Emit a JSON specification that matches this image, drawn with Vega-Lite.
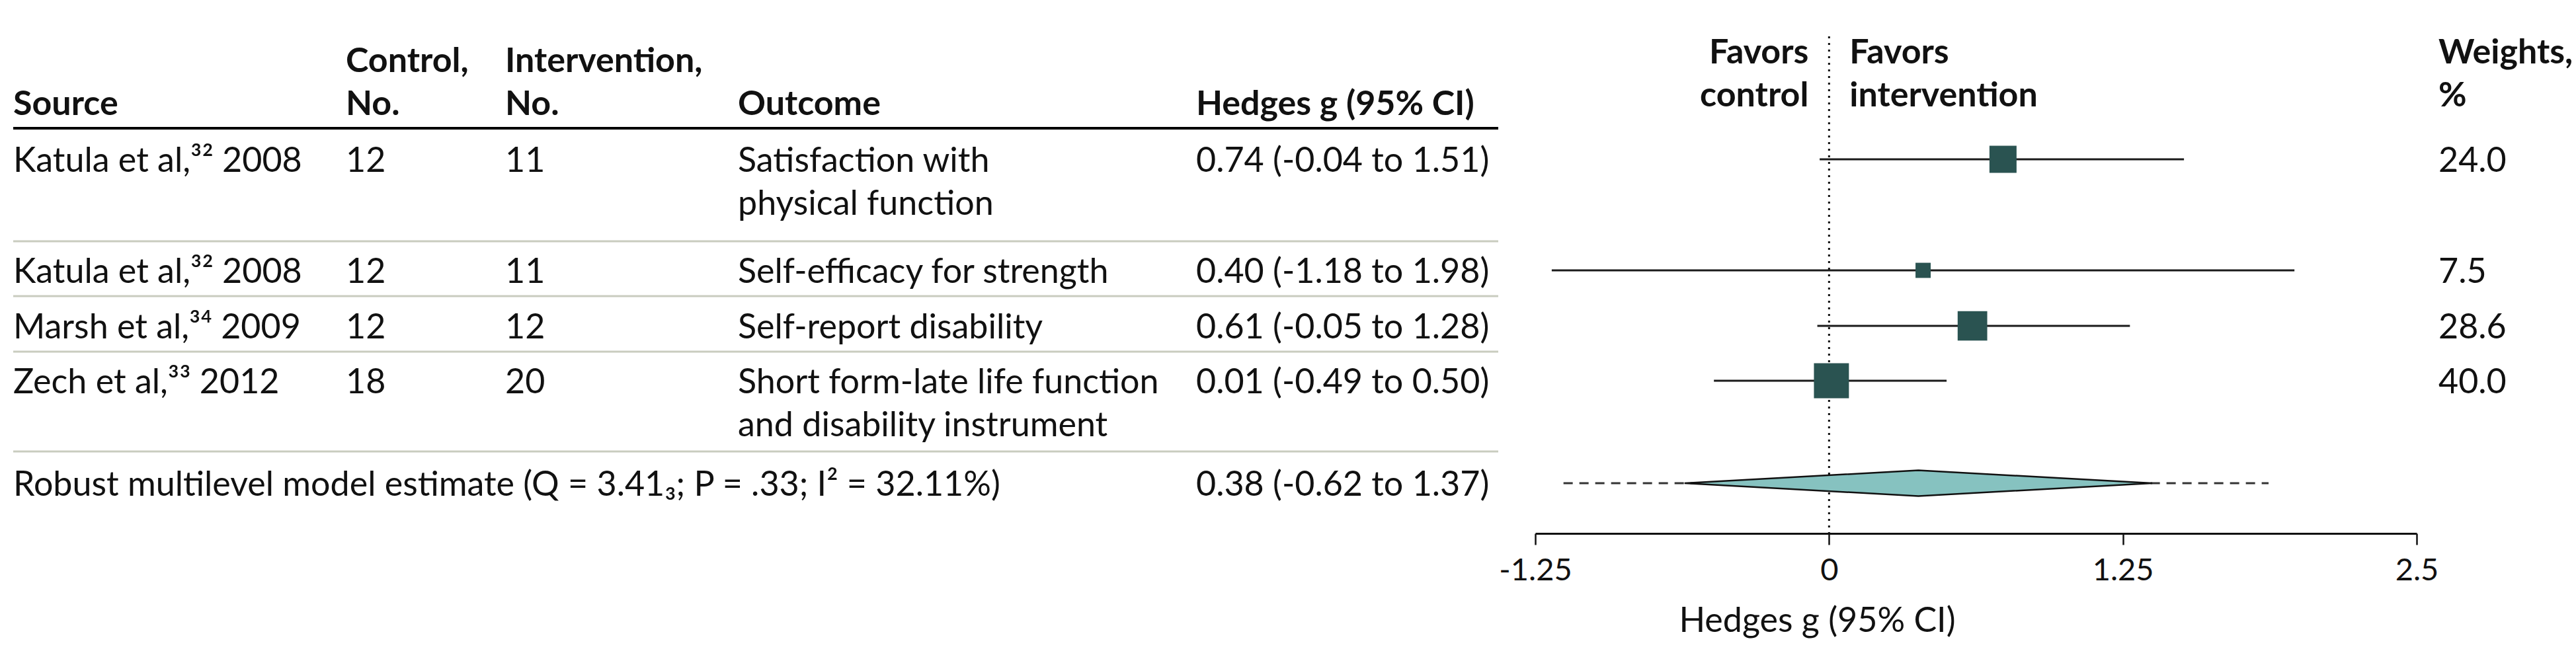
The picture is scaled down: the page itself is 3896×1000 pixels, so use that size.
{
  "$schema": "https://vega.github.io/schema/vega-lite/v6.json",
  "width": 3896,
  "height": 807,
  "autosize": {"type": "none"},
  "padding": {"left": 0, "top": 0, "right": 0, "bottom": 193},
  "background": "white",
  "config": {
    "view": {"stroke": null},
    "font": "Lato",
    "text": {"font": "Lato", "fontSize": 52, "color": "#111111", "lineHeight": 65}
  },
  "datasets": {
    "studies": [
      {"row": 1, "source": "Katula et al,³² 2008", "control": 12, "intervention": 11, "outcome": ["Satisfaction with", "physical function"], "estimate": "0.74 (-0.04 to 1.51)", "g": 0.74, "lo": -0.04, "hi": 1.51, "weight": 24.0},
      {"row": 2, "source": "Katula et al,³² 2008", "control": 12, "intervention": 11, "outcome": ["Self-efficacy for strength"], "estimate": "0.40 (-1.18 to 1.98)", "g": 0.40, "lo": -1.18, "hi": 1.98, "weight": 7.5},
      {"row": 3, "source": "Marsh et al,³⁴ 2009", "control": 12, "intervention": 12, "outcome": ["Self-report disability"], "estimate": "0.61 (-0.05 to 1.28)", "g": 0.61, "lo": -0.05, "hi": 1.28, "weight": 28.6},
      {"row": 4, "source": "Zech et al,³³ 2012", "control": 18, "intervention": 20, "outcome": ["Short form-late life function", "and disability instrument"], "estimate": "0.01 (-0.49 to 0.50)", "g": 0.01, "lo": -0.49, "hi": 0.50, "weight": 40.0}
    ],
    "summary": [
      {"row": 5, "label": "Robust multilevel model estimate (Q = 3.41₃; P = .33; I² = 32.11%)", "estimate": "0.38 (-0.62 to 1.37)", "g": 0.38, "lo": -0.62, "hi": 1.37, "pi_lo": -1.13, "pi_hi": 1.87}
    ],
    "headers": [
      {"col": 1, "lines": ["", "Source"]},
      {"col": 2, "lines": ["Control,", "No."]},
      {"col": 3, "lines": ["Intervention,", "No."]},
      {"col": 4, "lines": ["", "Outcome"]},
      {"col": 5, "lines": ["", "Hedges g (95% CI)"]},
      {"col": 7, "lines": ["Weights,", "%"]}
    ],
    "separators": [
      {"above": 1, "kind": "head"},
      {"above": 2, "kind": "row"},
      {"above": 3, "kind": "row"},
      {"above": 4, "kind": "row"},
      {"above": 5, "kind": "row"}
    ]
  },
  "layer": [
    {
      "layer": [
        {
          "layer": [
            {
              "data": {"name": "headers"},
              "transform": [{"filter": "datum.col < 6"}],
              "mark": {"type": "text", "baseline": "top", "align": "left", "fontWeight": "bold", "dy": 13},
              "encoding": {
                "x": {"field": "col", "type": "quantitative", "scale": {"domain": [1, 2, 3, 4, 5, 6, 7], "range": [20, 523, 764, 1116, 1809, 2266, 3688], "nice": false, "zero": false}, "axis": null},
                "y": {"datum": 0, "type": "quantitative", "scale": {"domain": [0, 1, 2, 3, 4, 5], "range": [55, 241, 409, 493, 576, 731], "nice": false, "zero": false}, "axis": null},
                "text": {"field": "lines", "type": "nominal"}
              }
            },
            {
              "data": {"name": "headers"},
              "transform": [{"filter": "datum.col == 7"}],
              "mark": {"type": "text", "baseline": "top", "align": "left", "fontWeight": "bold"},
              "encoding": {
                "x": {"field": "col", "type": "quantitative", "scale": {"domain": [1, 2, 3, 4, 5, 6, 7], "range": [20, 523, 764, 1116, 1809, 2266, 3688], "nice": false, "zero": false}, "axis": null},
                "y": {"datum": 0, "type": "quantitative", "scale": {"domain": [0, 1, 2, 3, 4, 5], "range": [55, 241, 409, 493, 576, 731], "nice": false, "zero": false}, "axis": null},
                "text": {"field": "lines", "type": "nominal"}
              }
            },
            {
              "data": {"name": "studies"},
              "mark": {"type": "text", "baseline": "middle", "align": "left", "dy": 3},
              "encoding": {
                "x": {"datum": 1, "type": "quantitative", "scale": {"domain": [1, 2, 3, 4, 5, 6, 7], "range": [20, 523, 764, 1116, 1809, 2266, 3688], "nice": false, "zero": false}, "axis": null},
                "y": {"field": "row", "type": "quantitative", "scale": {"domain": [0, 1, 2, 3, 4, 5], "range": [55, 241, 409, 493, 576, 731], "nice": false, "zero": false}, "axis": null},
                "text": {"field": "source", "type": "nominal"}
              }
            },
            {
              "data": {"name": "studies"},
              "mark": {"type": "text", "baseline": "middle", "align": "left", "dy": 3},
              "encoding": {
                "x": {"datum": 2, "type": "quantitative", "scale": {"domain": [1, 2, 3, 4, 5, 6, 7], "range": [20, 523, 764, 1116, 1809, 2266, 3688], "nice": false, "zero": false}, "axis": null},
                "y": {"field": "row", "type": "quantitative", "scale": {"domain": [0, 1, 2, 3, 4, 5], "range": [55, 241, 409, 493, 576, 731], "nice": false, "zero": false}, "axis": null},
                "text": {"field": "control", "type": "nominal"}
              }
            },
            {
              "data": {"name": "studies"},
              "mark": {"type": "text", "baseline": "middle", "align": "left", "dy": 3},
              "encoding": {
                "x": {"datum": 3, "type": "quantitative", "scale": {"domain": [1, 2, 3, 4, 5, 6, 7], "range": [20, 523, 764, 1116, 1809, 2266, 3688], "nice": false, "zero": false}, "axis": null},
                "y": {"field": "row", "type": "quantitative", "scale": {"domain": [0, 1, 2, 3, 4, 5], "range": [55, 241, 409, 493, 576, 731], "nice": false, "zero": false}, "axis": null},
                "text": {"field": "intervention", "type": "nominal"}
              }
            },
            {
              "data": {"name": "studies"},
              "mark": {"type": "text", "baseline": "middle", "align": "left", "dy": 3},
              "encoding": {
                "x": {"datum": 4, "type": "quantitative", "scale": {"domain": [1, 2, 3, 4, 5, 6, 7], "range": [20, 523, 764, 1116, 1809, 2266, 3688], "nice": false, "zero": false}, "axis": null},
                "y": {"field": "row", "type": "quantitative", "scale": {"domain": [0, 1, 2, 3, 4, 5], "range": [55, 241, 409, 493, 576, 731], "nice": false, "zero": false}, "axis": null},
                "text": {"field": "outcome", "type": "nominal"}
              }
            },
            {
              "data": {"name": "studies"},
              "mark": {"type": "text", "baseline": "middle", "align": "left", "dy": 3},
              "encoding": {
                "x": {"datum": 5, "type": "quantitative", "scale": {"domain": [1, 2, 3, 4, 5, 6, 7], "range": [20, 523, 764, 1116, 1809, 2266, 3688], "nice": false, "zero": false}, "axis": null},
                "y": {"field": "row", "type": "quantitative", "scale": {"domain": [0, 1, 2, 3, 4, 5], "range": [55, 241, 409, 493, 576, 731], "nice": false, "zero": false}, "axis": null},
                "text": {"field": "estimate", "type": "nominal"}
              }
            },
            {
              "data": {"name": "studies"},
              "mark": {"type": "text", "baseline": "middle", "align": "left", "dy": 3},
              "encoding": {
                "x": {"datum": 7, "type": "quantitative", "scale": {"domain": [1, 2, 3, 4, 5, 6, 7], "range": [20, 523, 764, 1116, 1809, 2266, 3688], "nice": false, "zero": false}, "axis": null},
                "y": {"field": "row", "type": "quantitative", "scale": {"domain": [0, 1, 2, 3, 4, 5], "range": [55, 241, 409, 493, 576, 731], "nice": false, "zero": false}, "axis": null},
                "text": {"field": "weight", "type": "quantitative", "format": ".1f"}
              }
            },
            {
              "data": {"name": "summary"},
              "mark": {"type": "text", "baseline": "middle", "align": "left", "dy": 3},
              "encoding": {
                "x": {"datum": 1, "type": "quantitative", "scale": {"domain": [1, 2, 3, 4, 5, 6, 7], "range": [20, 523, 764, 1116, 1809, 2266, 3688], "nice": false, "zero": false}, "axis": null},
                "y": {"field": "row", "type": "quantitative", "scale": {"domain": [0, 1, 2, 3, 4, 5], "range": [55, 241, 409, 493, 576, 731], "nice": false, "zero": false}, "axis": null},
                "text": {"field": "label", "type": "nominal"}
              }
            },
            {
              "data": {"name": "summary"},
              "mark": {"type": "text", "baseline": "middle", "align": "left", "dy": 3},
              "encoding": {
                "x": {"datum": 5, "type": "quantitative", "scale": {"domain": [1, 2, 3, 4, 5, 6, 7], "range": [20, 523, 764, 1116, 1809, 2266, 3688], "nice": false, "zero": false}, "axis": null},
                "y": {"field": "row", "type": "quantitative", "scale": {"domain": [0, 1, 2, 3, 4, 5], "range": [55, 241, 409, 493, 576, 731], "nice": false, "zero": false}, "axis": null},
                "text": {"field": "estimate", "type": "nominal"}
              }
            }
          ]
        },
        {
          "data": {"name": "separators"},
          "layer": [
            {
              "transform": [{"filter": "datum.kind === 'head'"}],
              "mark": {"type": "rule", "stroke": "#000000", "strokeWidth": 4},
              "encoding": {
                "x": {"datum": 1, "type": "quantitative", "scale": {"domain": [1, 2, 3, 4, 5, 6, 7], "range": [20, 523, 764, 1116, 1809, 2266, 3688], "nice": false, "zero": false}, "axis": null},
                "x2": {"datum": 6},
                "y": {"field": "above", "type": "quantitative", "scale": {"domain": [1, 2, 3, 4, 5], "range": [194, 365, 448, 532, 683], "nice": false, "zero": false}, "axis": null}
              }
            },
            {
              "transform": [{"filter": "datum.kind === 'row'"}],
              "mark": {"type": "rule", "stroke": "#c9ccbf", "strokeWidth": 3},
              "encoding": {
                "x": {"datum": 1, "type": "quantitative", "scale": {"domain": [1, 2, 3, 4, 5, 6, 7], "range": [20, 523, 764, 1116, 1809, 2266, 3688], "nice": false, "zero": false}, "axis": null},
                "x2": {"datum": 6},
                "y": {"field": "above", "type": "quantitative", "scale": {"domain": [1, 2, 3, 4, 5], "range": [194, 365, 448, 532, 683], "nice": false, "zero": false}, "axis": null}
              }
            }
          ]
        }
      ],
      "resolve": {"scale": {"y": "independent"}}
    },
    {
      "data": {"values": [{}]},
      "mark": {"type": "rule", "strokeDash": [3, 7], "strokeWidth": 3, "color": "#111111"},
      "encoding": {
        "x": {"datum": 0, "type": "quantitative", "scale": {"domain": [-1.25, 2.5], "range": [2322, 3655], "nice": false, "zero": false}, "axis": null},
        "y": {"datum": 0, "type": "quantitative", "scale": {"domain": [0, 1, 2, 3, 4, 5], "range": [55, 241, 409, 493, 576, 731], "nice": false, "zero": false}, "axis": null},
        "y2": {"value": "height"}
      }
    },
    {
      "data": {"name": "studies"},
      "mark": {"type": "rule", "strokeWidth": 3, "color": "#1a1a1a"},
      "encoding": {
        "x": {
          "field": "lo", "type": "quantitative",
          "scale": {"domain": [-1.25, 2.5], "range": [2322, 3655], "nice": false, "zero": false},
          "axis": {
            "orient": "bottom",
            "values": [-1.25, 0, 1.25, 2.5],
            "labelExpr": "datum.value + ''",
            "title": "Hedges g (95% CI)",
            "titleFont": "Lato", "titleFontSize": 52, "titleFontWeight": "normal", "titleColor": "#111111",
            "titleX": 2748, "titleY": 148, "titleAlign": "center", "titleBaseline": "alphabetic",
            "labelFont": "Lato", "labelFontSize": 47, "labelColor": "#111111", "labelPadding": 16,
            "labelFlush": false, "labelOverlap": false,
            "domainColor": "#111111", "domainWidth": 3,
            "tickColor": "#111111", "tickWidth": 2.5, "tickSize": 17,
            "grid": false
          }
        },
        "x2": {"field": "hi"},
        "y": {"field": "row", "type": "quantitative", "scale": {"domain": [0, 1, 2, 3, 4, 5], "range": [55, 241, 409, 493, 576, 731], "nice": false, "zero": false}, "axis": null}
      }
    },
    {
      "data": {"name": "studies"},
      "mark": {"type": "point", "shape": "square", "filled": true, "color": "#2a5351", "opacity": 1, "strokeWidth": 0},
      "encoding": {
        "x": {"field": "g", "type": "quantitative", "scale": {"domain": [-1.25, 2.5], "range": [2322, 3655], "nice": false, "zero": false}, "axis": null},
        "y": {"field": "row", "type": "quantitative", "scale": {"domain": [0, 1, 2, 3, 4, 5], "range": [55, 241, 409, 493, 576, 731], "nice": false, "zero": false}, "axis": null},
        "size": {"field": "weight", "type": "quantitative", "scale": {"domain": [0, 40], "range": [0, 2800]}, "legend": null}
      }
    },
    {
      "data": {"name": "summary"},
      "mark": {"type": "rule", "strokeWidth": 3, "strokeDash": [14, 10], "color": "#333333"},
      "encoding": {
        "x": {"field": "pi_lo", "type": "quantitative", "scale": {"domain": [-1.25, 2.5], "range": [2322, 3655], "nice": false, "zero": false}, "axis": null},
        "x2": {"field": "pi_hi"},
        "y": {"field": "row", "type": "quantitative", "scale": {"domain": [0, 1, 2, 3, 4, 5], "range": [55, 241, 409, 493, 576, 731], "nice": false, "zero": false}, "axis": null}
      }
    },
    {
      "data": {"name": "summary"},
      "mark": {"type": "point", "shape": "M-1,0L0,-0.0551L1,0L0,0.0551Z", "filled": true, "fill": "#86c2c0", "stroke": "#111111", "strokeWidth": 2.5, "opacity": 1, "size": 500414},
      "encoding": {
        "x": {"field": "g", "type": "quantitative", "scale": {"domain": [-1.25, 2.5], "range": [2322, 3655], "nice": false, "zero": false}, "axis": null},
        "y": {"field": "row", "type": "quantitative", "scale": {"domain": [0, 1, 2, 3, 4, 5], "range": [55, 241, 409, 493, 576, 731], "nice": false, "zero": false}, "axis": null}
      }
    },
    {
      "data": {"values": [{}]},
      "mark": {"type": "text", "align": "right", "baseline": "top", "fontWeight": "bold", "dx": -31},
      "encoding": {
        "x": {"datum": 0, "type": "quantitative", "scale": {"domain": [-1.25, 2.5], "range": [2322, 3655], "nice": false, "zero": false}, "axis": null},
        "y": {"datum": 0, "type": "quantitative", "scale": {"domain": [0, 1, 2, 3, 4, 5], "range": [55, 241, 409, 493, 576, 731], "nice": false, "zero": false}, "axis": null},
        "text": {"value": ["Favors", "control"]}
      }
    },
    {
      "data": {"values": [{}]},
      "mark": {"type": "text", "align": "left", "baseline": "top", "fontWeight": "bold", "dx": 31},
      "encoding": {
        "x": {"datum": 0, "type": "quantitative", "scale": {"domain": [-1.25, 2.5], "range": [2322, 3655], "nice": false, "zero": false}, "axis": null},
        "y": {"datum": 0, "type": "quantitative", "scale": {"domain": [0, 1, 2, 3, 4, 5], "range": [55, 241, 409, 493, 576, 731], "nice": false, "zero": false}, "axis": null},
        "text": {"value": ["Favors", "intervention"]}
      }
    }
  ],
  "resolve": {"scale": {"x": "independent", "y": "independent"}}
}
